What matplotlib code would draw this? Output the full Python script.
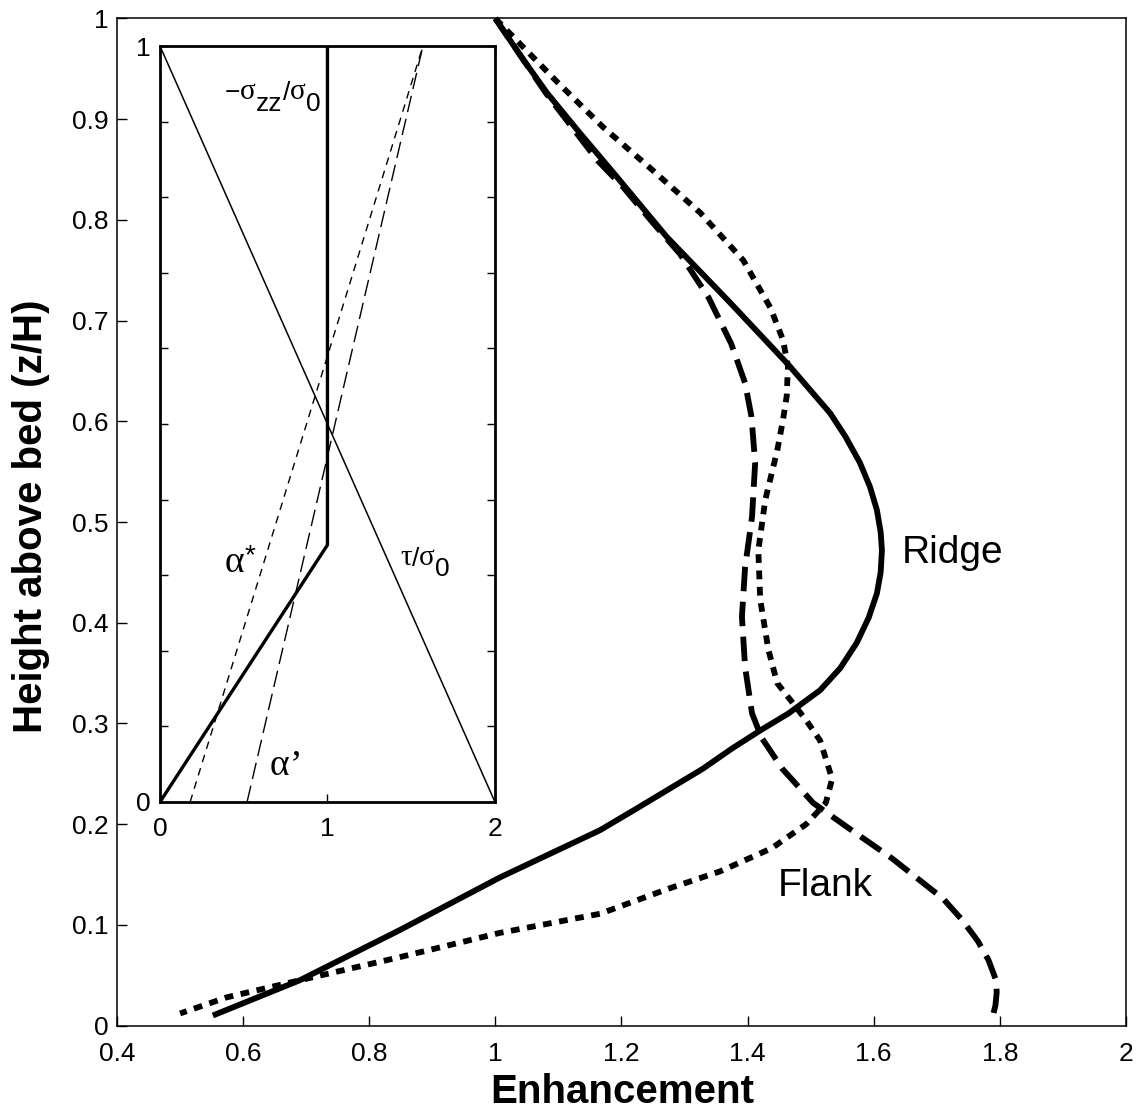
import matplotlib
matplotlib.use("Agg")
import matplotlib.pyplot as plt
import numpy as np

plt.rcParams['font.family'] = ['Liberation Sans', 'DejaVu Sans']

# ---- enhancement profiles (height z/H, enhancement E) ----
ridge_z = [1.0, 0.963, 0.926, 0.887, 0.847, 0.783, 0.718, 0.656, 0.608, 0.585, 0.559,
           0.535, 0.512, 0.490, 0.472, 0.450, 0.429, 0.405, 0.380, 0.355, 0.333,
           0.310, 0.293, 0.275, 0.255, 0.214, 0.194, 0.147, 0.095, 0.045, 0.010]
ridge_e = [1.0, 1.040, 1.082, 1.133, 1.187, 1.272, 1.372, 1.465, 1.531, 1.555, 1.578,
           1.594, 1.605, 1.611, 1.613, 1.611, 1.605, 1.592, 1.573, 1.547, 1.515,
           1.465, 1.420, 1.375, 1.329, 1.220, 1.166, 1.007, 0.849, 0.690, 0.552]

flank_dash_z = [1.0, 0.926, 0.859, 0.833, 0.797, 0.766, 0.723, 0.677, 0.638, 0.605,
                0.559, 0.505, 0.455, 0.406, 0.356, 0.310, 0.286, 0.255, 0.221, 0.197,
                0.166, 0.126, 0.105, 0.084, 0.065, 0.045, 0.033, 0.020, 0.005]
flank_dash_e = [1.0, 1.080, 1.162, 1.202, 1.250, 1.293, 1.338, 1.374, 1.396, 1.406,
                1.412, 1.407, 1.396, 1.391, 1.396, 1.407, 1.422, 1.455, 1.504, 1.558,
                1.629, 1.710, 1.740, 1.765, 1.782, 1.794, 1.795, 1.793, 1.787]

flank_dot_z = [1.0, 0.937, 0.892, 0.849, 0.807, 0.760, 0.713, 0.681, 0.655, 0.625,
               0.601, 0.571, 0.522, 0.472, 0.423, 0.373, 0.340, 0.320, 0.303, 0.283,
               0.245, 0.221, 0.200, 0.176, 0.153, 0.136, 0.111, 0.092, 0.068, 0.045,
               0.028, 0.012]
flank_dot_e = [1.0, 1.098, 1.171, 1.250, 1.325, 1.393, 1.436, 1.456, 1.464, 1.462,
               1.456, 1.447, 1.428, 1.417, 1.420, 1.433, 1.447, 1.472, 1.493, 1.515,
               1.534, 1.524, 1.493, 1.438, 1.356, 1.275, 1.166, 1.007, 0.849, 0.690,
               0.574, 0.500]

x_ticks = [0.4, 0.6, 0.8, 1.0, 1.2, 1.4, 1.6, 1.8, 2.0]
x_tick_labels = ['0.4', '0.6', '0.8', '1', '1.2', '1.4', '1.6', '1.8', '2']
y_ticks = [0.0, 0.1, 0.2, 0.3, 0.4, 0.5, 0.6, 0.7, 0.8, 0.9, 1.0]
y_tick_labels = ['0', '0.1', '0.2', '0.3', '0.4', '0.5', '0.6', '0.7', '0.8', '0.9', '1']

# ---- inset: stress and alpha profiles ----
tau_z = [0.0, 1.0]
tau_x = [2.0, 0.0]
szz_z = [0.0, 0.34, 1.0]
szz_x = [0.0, 1.0, 1.0]
astar_z = [0.0, 1.0]
astar_x = [0.18, 1.57]
aprime_z = [0.0, 1.0]
aprime_x = [0.52, 1.57]

inset_x_ticks = [0, 1, 2]
inset_x_labels = ['0', '1', '2']
inset_y_ticks = [0.0, 0.1, 0.2, 0.3, 0.4, 0.5, 0.6, 0.7, 0.8, 0.9, 1.0]
inset_y_labels = ['0', '', '', '', '', '', '', '', '', '', '1']

SANS = 'Liberation Sans'
SERIF = 'Liberation Serif'


def chained_label(axis, x, y, pieces):
    """Write a label piece by piece; each piece is (text, family, size, dy_points)
    and starts where the previous one ends, shifted vertically by dy."""
    prev = None
    for text, family, size, dy in pieces:
        if prev is None:
            prev = axis.text(x, y, text, family=family, fontsize=size,
                             ha='left', va='bottom')
        else:
            prev = axis.annotate(text, xy=(1, 0), xycoords=prev,
                                 xytext=(0, dy), textcoords='offset points',
                                 family=family, fontsize=size,
                                 ha='left', va='bottom')
    return prev


fig = plt.figure(figsize=(11.37, 11.14), dpi=100)
fig.patch.set_facecolor('white')

ax = fig.add_axes([0.1029, 0.0794, 0.8874, 0.904])
ax.plot(ridge_e, ridge_z, color='k', lw=4.2, solid_capstyle='butt',
        solid_joinstyle='round', clip_on=False)
ax.plot(flank_dash_e, flank_dash_z, color='k', lw=4.2,
        linestyle=(0, (4.2, 1.8)), dash_capstyle='butt', clip_on=False)
ax.plot(flank_dot_e, flank_dot_z, color='k', lw=4.2,
        linestyle=(0, (1.5, 1.3)), dash_capstyle='butt', clip_on=False)
ax.set_xlim(0.4, 2.0)
ax.set_ylim(0.0, 1.0)
ax.set_xticks(x_ticks)
ax.set_xticklabels(x_tick_labels)
ax.set_yticks(y_ticks)
ax.set_yticklabels(y_tick_labels)
ax.tick_params(axis='both', direction='in', length=7, width=1.0, labelsize=19)
ax.tick_params(axis='x', pad=12)
ax.tick_params(axis='y', pad=6)
for sp in ax.spines.values():
    sp.set_linewidth(1.1)

ax.text(1.645, 0.459, 'Ridge', fontsize=28, ha='left', va='baseline')
ax.text(1.448, 0.129, 'Flank', fontsize=28, ha='left', va='baseline')

fig.text(0.547, 0.0197, 'Enhancement', fontsize=29, fontweight='bold',
         ha='center', va='center')
fig.text(0.0273, 0.5368, 'Height above bed (z/H)', fontsize=29, fontweight='bold',
         rotation=90, ha='center', va='center')

ins = fig.add_axes([0.1407, 0.2801, 0.2946, 0.6786])
ins.set_facecolor('white')
ins.plot(tau_x, tau_z, color='k', lw=1.1)
ins.plot(szz_x, szz_z, color='k', lw=2.4)
ins.plot(astar_x, astar_z, color='k', lw=1.0, dashes=(5.5, 4.5))
ins.plot(aprime_x, aprime_z, color='k', lw=1.0, dashes=(12, 5))
ins.set_xlim(0, 2)
ins.set_ylim(0, 1)
ins.set_xticks(inset_x_ticks)
ins.set_xticklabels(inset_x_labels)
ins.set_yticks(inset_y_ticks)
ins.set_yticklabels(inset_y_labels)
ins.tick_params(axis='both', direction='in', length=6, width=1.0, labelsize=19,
                top=True, right=True)
ins.tick_params(axis='x', pad=11)
ins.tick_params(axis='y', pad=7)
for sp in ins.spines.values():
    sp.set_linewidth(2.0)

# stress / alpha annotations, subscripts drawn full size and lowered
chained_label(ins, 0.388, 0.922, [('−', SANS, 19, 0), ('σ', SERIF, 21, 0),
                                  ('zz', SANS, 19, -8), ('/', SANS, 19, 8),
                                  ('σ', SERIF, 21, 0), ('0', SANS, 19, -8)])
chained_label(ins, 1.433, 0.305, [('τ', SERIF, 21, 0), ('/', SANS, 19, 0),
                                  ('σ', SERIF, 21, 0), ('0', SANS, 19, -7)])
chained_label(ins, 0.388, 0.293, [('α', SERIF, 27, 0), ('*', SANS, 20, 8)])
chained_label(ins, 0.657, 0.025, [('α', SERIF, 27, 0), ('’', SERIF, 27, 0)])

fig.savefig('out.png', dpi=100, facecolor='white')
